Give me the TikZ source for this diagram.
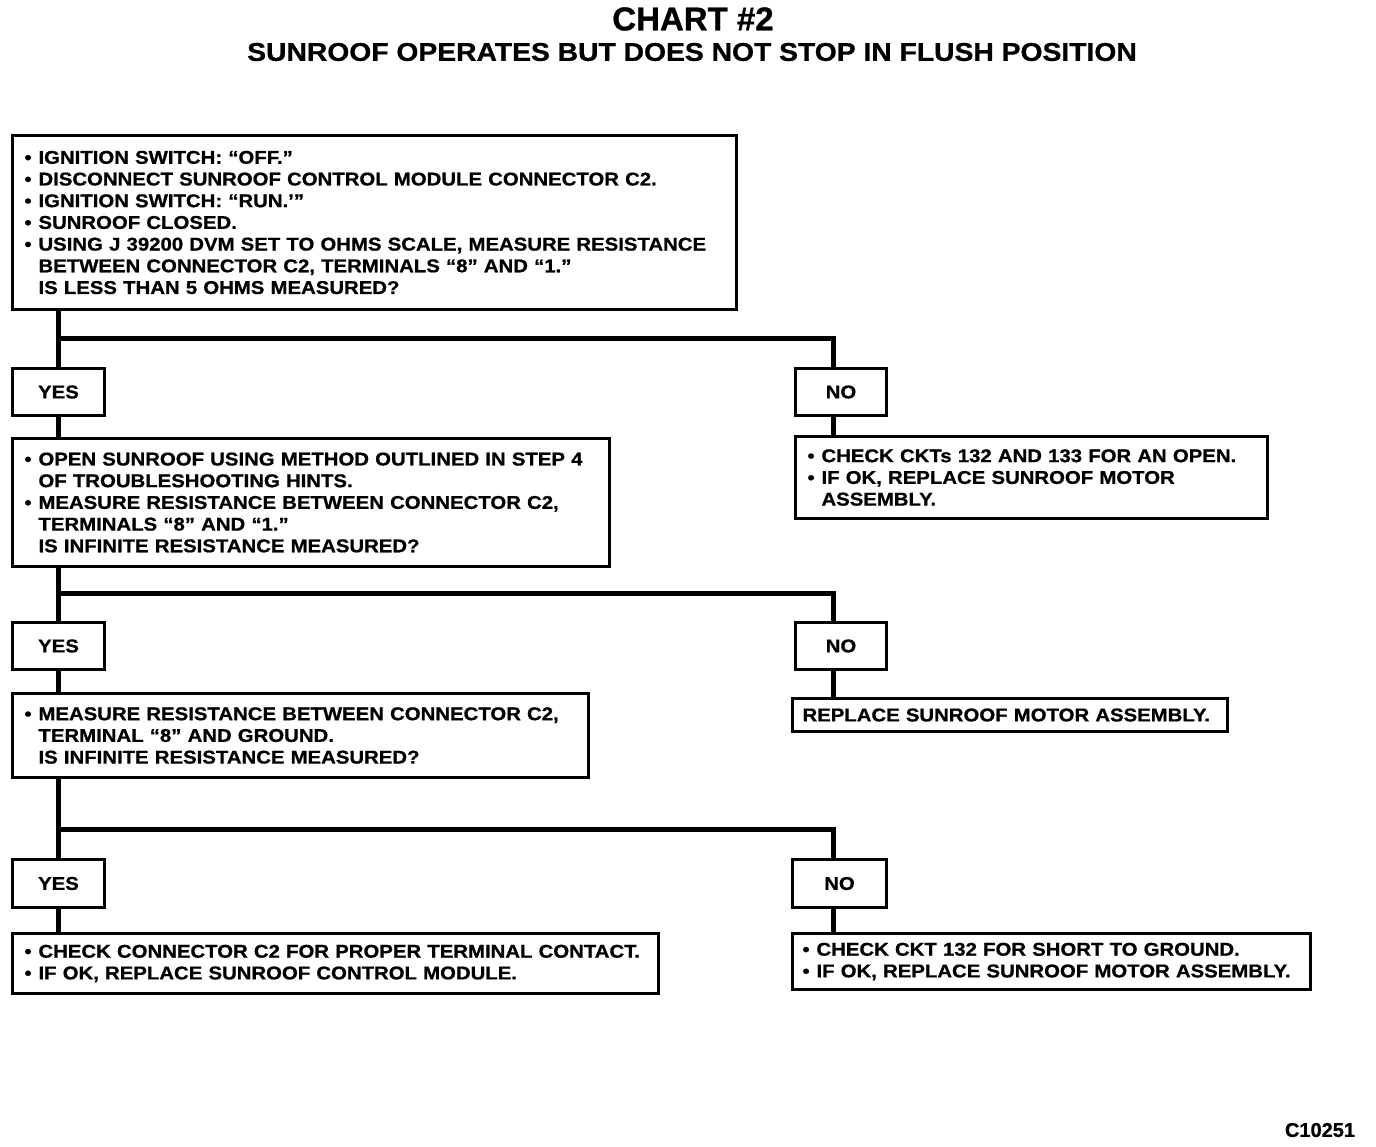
\documentclass[tikz,border=0pt]{standalone}
\usepackage{fontspec}
\setmainfont{Liberation Sans}[FakeStretch=1.1, BoldFeatures={FakeBold=0.8}]
\newfontfamily\plainfont{Liberation Sans}[BoldFeatures={FakeBold=0.8}]
\newcommand{\bul}{\makebox[14pt][l]{•}}
\newcommand{\ind}{\hspace*{14pt}}
\newcommand{\LL}[1]{\mbox{#1}}
\begin{document}
\begin{tikzpicture}[x=1pt,y=-1pt,
  txt/.style={font=\bfseries\fontsize{18.5}{21.7}\selectfont},
  box/.style={txt, draw, line width=3pt, rectangle, anchor=north west,
    inner xsep=12pt, inner ysep=0pt, align=left},
  ans/.style={txt, draw, line width=3pt, rectangle, anchor=north west,
    minimum width=92pt, minimum height=47pt, inner sep=0pt},
  conn/.style={line width=5pt, line join=miter}]
\fill[white] (0,0) rectangle (1376,1146);
\useasboundingbox (0,0) rectangle (1376,1146);

\node[font=\plainfont\bfseries\fontsize{33}{33}\selectfont] (title) at (693,19) {CHART \#2};
\node[font=\bfseries\fontsize{25.7}{26}\selectfont] (sub) at (692,52) {SUNROOF OPERATES BUT DOES NOT STOP IN FLUSH POSITION};

\node[box, text width=700pt, minimum height=174pt] (b1) at (11,134) {%
\LL{\bul IGNITION SWITCH: “OFF.”}\\
\LL{\bul DISCONNECT SUNROOF CONTROL MODULE CONNECTOR C2.}\\
\LL{\bul IGNITION SWITCH: “RUN.’”}\\
\LL{\bul SUNROOF CLOSED.}\\
\LL{\bul USING J 39200 DVM SET TO OHMS SCALE, MEASURE RESISTANCE}\\
\LL{\ind BETWEEN CONNECTOR C2, TERMINALS “8” AND “1.”}\\
\LL{\ind IS LESS THAN 5 OHMS MEASURED?}};

\node[ans] (y1) at (11,367) {YES};
\node[ans, minimum width=91pt] (n1) at (794,367) {NO};

\node[box, text width=573pt, minimum height=128pt] (b2) at (11,437) {%
\LL{\bul OPEN SUNROOF USING METHOD OUTLINED IN STEP 4}\\
\LL{\ind OF TROUBLESHOOTING HINTS.}\\
\LL{\bul MEASURE RESISTANCE BETWEEN CONNECTOR C2,}\\
\LL{\ind TERMINALS “8” AND “1.”}\\
\LL{\ind IS INFINITE RESISTANCE MEASURED?}};

\node[box, text width=448pt, minimum height=82pt] (b3) at (794,435) {%
\LL{\bul CHECK CKTs 132 AND 133 FOR AN OPEN.}\\
\LL{\bul IF OK, REPLACE SUNROOF MOTOR}\\
\LL{\ind ASSEMBLY.}};

\node[ans] (y2) at (11,621) {YES};
\node[ans, minimum width=91pt] (n2) at (794,621) {NO};

\node[box, text width=552pt, minimum height=84pt] (b4) at (11,692) {%
\LL{\bul MEASURE RESISTANCE BETWEEN CONNECTOR C2,}\\
\LL{\ind TERMINAL “8” AND GROUND.}\\
\LL{\ind IS INFINITE RESISTANCE MEASURED?}};

\node[box, inner xsep=10pt, text width=415pt, minimum height=33pt] (b5) at (791,697) {%
\LL{REPLACE SUNROOF MOTOR ASSEMBLY.}};

\node[ans, minimum height=48pt] (y3) at (11,858) {YES};
\node[ans, minimum width=94pt, minimum height=48pt] (n3) at (791,858) {NO};

\node[box, text width=622pt, minimum height=60pt] (b6) at (11,932) {%
\LL{\bul CHECK CONNECTOR C2 FOR PROPER TERMINAL CONTACT.}\\
\LL{\bul IF OK, REPLACE SUNROOF CONTROL MODULE.}};

\node[box, inner xsep=10pt, text width=498pt, minimum height=56pt] (b7) at (791,932) {%
\LL{\bul CHECK CKT 132 FOR SHORT TO GROUND.}\\
\LL{\bul IF OK, REPLACE SUNROOF MOTOR ASSEMBLY.}};

\node[font=\plainfont\bfseries\fontsize{20}{20}\selectfont] (code) at (1320,1130) {C10251};

% connectors
\coordinate (j1) at (57,338);  \coordinate (k1) at (833,338);
\coordinate (j2) at (57,593);  \coordinate (k2) at (833,593);
\coordinate (j3) at (57,829);  \coordinate (k3) at (833,829);

\draw[conn] (b1.south -| y1.north) -- (y1.north);
\draw[conn] (j1) -- (k1) -- (k1 |- n1.north);
\draw[conn] (y1.south) -- (y1.south |- b2.north);
\draw[conn] (k1 |- n1.south) -- (k1 |- b3.north);

\draw[conn] (b2.south -| y2.north) -- (y2.north);
\draw[conn] (j2) -- (k2) -- (k2 |- n2.north);
\draw[conn] (y2.south) -- (y2.south |- b4.north);
\draw[conn] (k2 |- n2.south) -- (k2 |- b5.north);

\draw[conn] (b4.south -| y3.north) -- (y3.north);
\draw[conn] (j3) -- (k3) -- (k3 |- n3.north);
\draw[conn] (y3.south) -- (y3.south |- b6.north);
\draw[conn] (k3 |- n3.south) -- (k3 |- b7.north);
\end{tikzpicture}
\end{document}
